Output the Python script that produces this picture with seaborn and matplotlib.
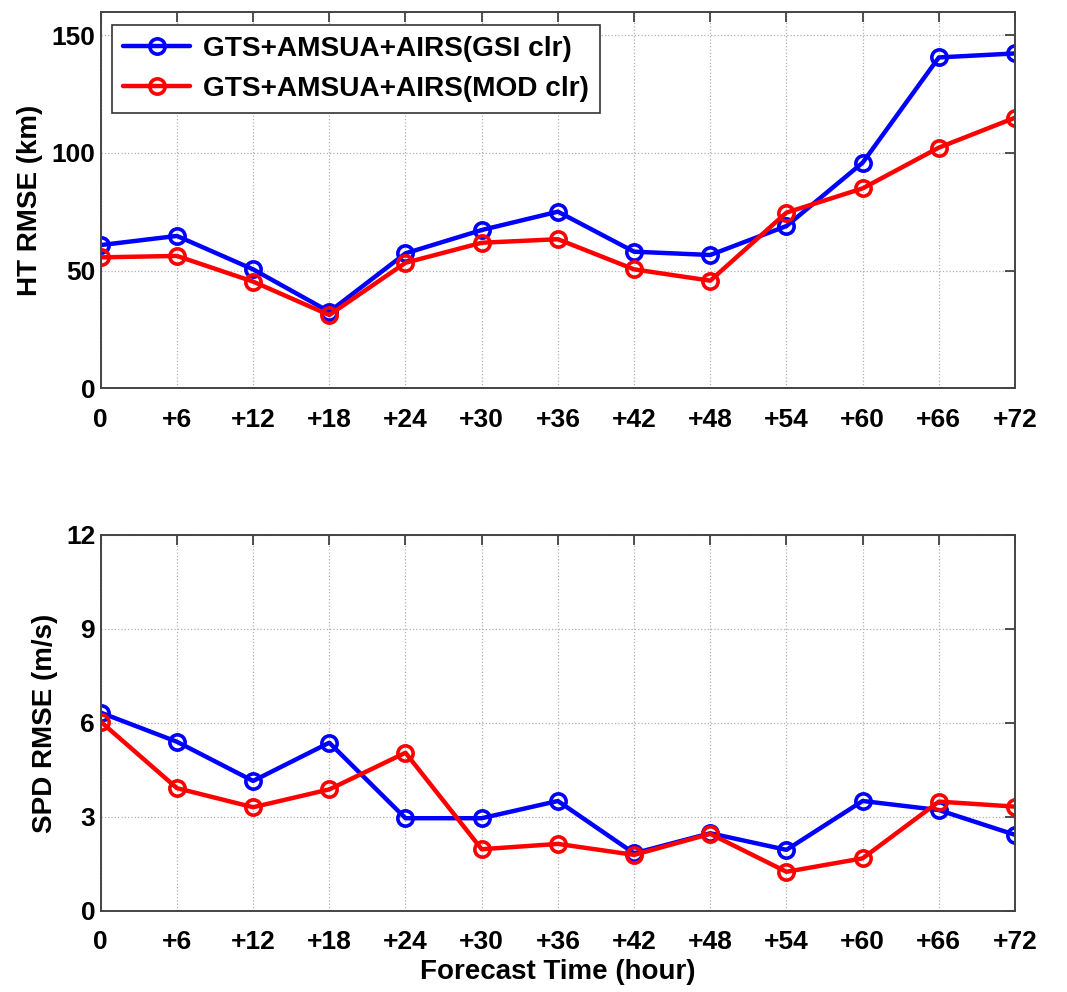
import numpy as np
import pandas as pd
import matplotlib
matplotlib.use("Agg")
import matplotlib.pyplot as plt
import seaborn as sns

# Forecast lead times (hours) and their tick labels
hours = [0, 6, 12, 18, 24, 30, 36, 42, 48, 54, 60, 66, 72]
hour_labels = ["0", "+6", "+12", "+18", "+24", "+30", "+36", "+42", "+48", "+54", "+60", "+66", "+72"]

series_names = ["GTS+AMSUA+AIRS(GSI clr)", "GTS+AMSUA+AIRS(MOD clr)"]

# Track (position) RMSE in km
ht_gsi = [60.8, 64.7, 50.5, 32.5, 57.3, 67.2, 75.0, 58.0, 56.6, 68.9, 95.8, 140.5, 142.2]
ht_mod = [55.6, 56.2, 45.3, 31.1, 53.3, 61.8, 63.3, 50.5, 45.7, 74.6, 84.9, 102.2, 114.9]

# Maximum wind speed RMSE in m/s
spd_gsi = [6.33, 5.40, 4.15, 5.37, 2.96, 2.96, 3.51, 1.84, 2.48, 1.95, 3.51, 3.22, 2.43]
spd_mod = [6.04, 3.92, 3.31, 3.88, 5.05, 1.97, 2.14, 1.79, 2.46, 1.25, 1.68, 3.49, 3.33]

colors = ["#0000ff", "#ff0000"]

sns.set_theme(style="white")
plt.rcParams["font.family"] = ["Liberation Sans", "DejaVu Sans"]
plt.rcParams["font.weight"] = "bold"
plt.rcParams["text.color"] = "black"
plt.rcParams["axes.labelcolor"] = "black"

TICK_FS = 19
LABEL_FS = 20
LEG_FS = 20.2


def long_frame(a, b):
    return pd.DataFrame({
        "hour": hours * 2,
        "value": list(a) + list(b),
        "run": [series_names[0]] * len(hours) + [series_names[1]] * len(hours),
    })


fig = plt.figure(figsize=(10.67, 9.92), dpi=100)
ax_top = fig.add_axes([0.0944, 0.6086, 0.8569, 0.3798])
ax_bot = fig.add_axes([0.0944, 0.0817, 0.8569, 0.3790])

panels = [
    (ax_top, long_frame(ht_gsi, ht_mod), (0, 160), [0, 50, 100, 150], "HT RMSE (km)"),
    (ax_bot, long_frame(spd_gsi, spd_mod), (0, 12), [0, 3, 6, 9, 12], "SPD RMSE (m/s)"),
]

for ax, df, ylim, yticks, ylabel in panels:
    sns.lineplot(
        data=df, x="hour", y="value", hue="run", palette=colors,
        hue_order=series_names, ax=ax, linewidth=3.2, marker="o",
        markersize=11, markerfacecolor="none", markeredgewidth=2.6,
        legend=False,
    )
    # open circles take the colour of their own line
    for ln in ax.lines:
        ln.set_markeredgecolor(ln.get_color())
        ln.set_markerfacecolor("none")
    ax.set_xlim(0, 72)
    ax.set_ylim(*ylim)
    ax.set_xticks(hours)
    ax.set_xticklabels(hour_labels)
    ax.set_yticks(yticks)
    ax.set_ylabel(ylabel, fontsize=LABEL_FS, fontweight="bold", labelpad=6)
    ax.set_xlabel("")
    ax.grid(True, linestyle=":", color="#b0b0b0", linewidth=0.9)
    ax.tick_params(axis="both", direction="in", length=7, width=1.2,
                   top=True, right=True, labelsize=TICK_FS, colors="#333333",
                   labelcolor="black")
    ax.tick_params(axis="x", pad=14)
    ax.tick_params(axis="y", pad=4)
    for lbl in ax.get_xticklabels() + ax.get_yticklabels():
        lbl.set_fontweight("bold")
    for sp in ax.spines.values():
        sp.set_color("#444444")
        sp.set_linewidth(1.4)
        sp.set_visible(True)

ax_bot.set_xlabel("Forecast Time (hour)", fontsize=LABEL_FS, fontweight="bold", labelpad=3)

handles = [
    plt.Line2D([], [], color=c, linewidth=3.2, marker="o", markersize=11,
               markerfacecolor="none", markeredgecolor=c, markeredgewidth=2.6)
    for c in colors
]
leg = ax_top.legend(
    handles, series_names, loc="upper left", bbox_to_anchor=(0.012, 0.965),
    prop={"size": LEG_FS, "weight": "bold"}, frameon=True, fancybox=False,
    edgecolor="#333333", framealpha=1, handlelength=2.4, handletextpad=0.45,
    borderpad=0.4, labelspacing=0.5, borderaxespad=0.0,
)
leg.get_frame().set_linewidth(1.2)
for t in leg.get_texts():
    t.set_color("black")

fig.savefig("out.png", dpi=100)
